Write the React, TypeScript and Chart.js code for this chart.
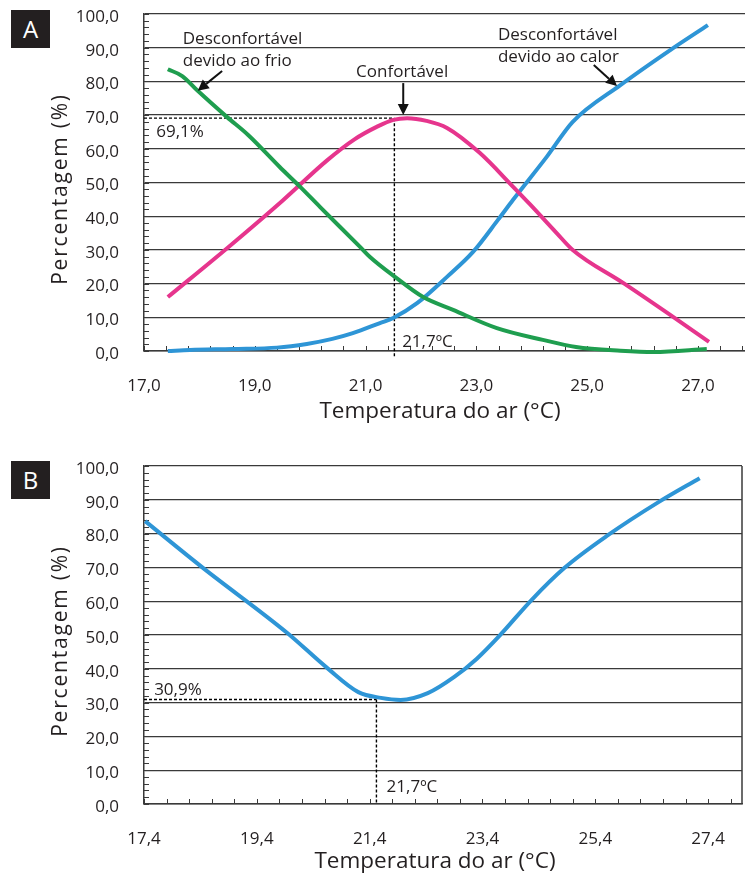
import React, { useEffect, useRef } from "react";
import { Chart, registerables } from "chart.js";

Chart.register(...registerables);

const FONT = '"Open Sans", "Noto Sans", "DejaVu Sans", sans-serif';
const INK = "#231f20";
const GRID = "#3a3a3a";
const GREEN = "#1f9e4f";
const PINK = "#e6358d";
const BLUE = "#2e95d6";

// ---- tick values ----
const yTickValues = [0, 10, 20, 30, 40, 50, 60, 70, 80, 90, 100];
const xTickValuesA = [17.0, 19.0, 21.0, 23.0, 25.0, 27.0];
const xTickValuesB = [17.4, 19.4, 21.4, 23.4, 25.4, 27.4];

// ---- Panel A: discomfort due to cold ----
const coldTempA = [17.43, 17.69, 17.97, 18.5, 18.88, 19.45, 19.82, 20.18, 20.9, 21.08, 21.53, 22.04, 22.58, 23.37, 24.2, 24.8, 25.6, 26.2, 27.16];
const coldPctA = [83.6, 81.6, 77.2, 69.4, 64.1, 54.6, 48.7, 42.7, 30.9, 27.9, 22.0, 16.0, 12.2, 6.8, 3.3, 1.2, 0.1, -0.3, 0.6];

// ---- Panel A: comfortable ----
const comfortTempA = [17.43, 18.5, 19.5, 20.3, 20.8, 21.2, 21.5, 21.75, 22.1, 22.47, 23.06, 23.66, 23.97, 24.45, 24.74, 25.65, 26.5, 27.2];
const comfortPctA = [16.0, 30.5, 44.6, 56.5, 62.8, 66.5, 68.6, 69.1, 68.3, 66.2, 58.8, 48.8, 43.5, 35.0, 30.0, 20.2, 10.7, 2.7];

// ---- Panel A: discomfort due to heat ----
const heatTempA = [17.43, 17.83, 18.6, 19.4, 19.94, 20.4, 20.77, 21.26, 21.5, 21.93, 22.47, 22.94, 23.39, 23.66, 24.27, 24.74, 25.6, 26.5, 27.18];
const heatPctA = [0.0, 0.3, 0.6, 1.0, 2.1, 3.6, 5.3, 8.3, 9.8, 14.2, 22.0, 29.4, 38.9, 44.8, 57.6, 68.0, 78.9, 89.3, 96.7];

// ---- Panel B: total discomfort ----
const overallTempB = [17.42, 18.45, 19.94, 20.65, 21.2, 21.6, 21.95, 22.43, 22.9, 23.3, 23.73, 24.26, 24.85, 25.63, 26.52, 27.25];
const overallPctB = [83.7, 69.8, 50.6, 40.2, 33.1, 31.4, 30.8, 32.8, 37.6, 43.0, 50.3, 60.2, 69.8, 79.6, 89.3, 96.4];

// ---- reference marks ----
const peakComfortA = 69.1;
const minDiscomfortB = 30.9;
const optimumTemp = 21.52;

const toPoints = (xs: number[], ys: number[]) => xs.map((x, i) => ({ x, y: ys[i] }));
const fmt = (v: number) => v.toFixed(1).replace(".", ",");

type P = [number, number];
type Txt = { x: number; y: number; text: string; align: CanvasTextAlign };
type Decor = {
  texts: Txt[];
  arrows: { from: P; to: P }[];
  dashes: { from: P; to: P }[];
  xTitle: { text: string; x: number; y: number };
  yTitle: { text: string; x: number; y: number };
  rightBorder: boolean;
  minorX: number;
  minorY: number;
};

function decorPlugin(d: Decor) {
  return {
    id: "decor",
    beforeDatasetsDraw(chart: any) {
      const { ctx, chartArea: ca, scales } = chart;
      const x = scales.x;
      const y = scales.y;
      ctx.save();
      ctx.strokeStyle = GRID;
      ctx.lineWidth = 1;
      const nx = Math.floor((x.max - x.min) / d.minorX + 1e-6);
      for (let i = 0; i <= nx; i++) {
        const px = Math.round(x.getPixelForValue(x.min + i * d.minorX)) + 0.5;
        ctx.beginPath();
        ctx.moveTo(px, ca.bottom);
        ctx.lineTo(px, ca.bottom - 5);
        ctx.stroke();
      }
      const ny = Math.floor((y.max - y.min) / d.minorY + 1e-6);
      for (let i = 0; i <= ny; i++) {
        const py = Math.round(y.getPixelForValue(y.min + i * d.minorY)) + 0.5;
        ctx.beginPath();
        ctx.moveTo(ca.left, py);
        ctx.lineTo(ca.left + 5, py);
        ctx.stroke();
      }
      if (d.rightBorder) {
        ctx.lineWidth = 1.5;
        ctx.beginPath();
        ctx.moveTo(ca.right, ca.top);
        ctx.lineTo(ca.right, ca.bottom);
        ctx.stroke();
      }
      ctx.strokeStyle = "#000";
      ctx.lineWidth = 1.4;
      ctx.setLineDash([3, 2]);
      for (const ds of d.dashes) {
        ctx.beginPath();
        ctx.moveTo(x.getPixelForValue(ds.from[0]), y.getPixelForValue(ds.from[1]));
        ctx.lineTo(x.getPixelForValue(ds.to[0]), y.getPixelForValue(ds.to[1]));
        ctx.stroke();
      }
      ctx.restore();
    },
    afterDatasetsDraw(chart: any) {
      const { ctx, scales } = chart;
      const x = scales.x;
      const y = scales.y;
      ctx.save();
      // arrows
      ctx.strokeStyle = "#111";
      ctx.fillStyle = "#111";
      ctx.lineWidth = 2;
      for (const a of d.arrows) {
        const x0 = x.getPixelForValue(a.from[0]);
        const y0 = y.getPixelForValue(a.from[1]);
        const x1 = x.getPixelForValue(a.to[0]);
        const y1 = y.getPixelForValue(a.to[1]);
        const ang = Math.atan2(y1 - y0, x1 - x0);
        const hl = 11;
        const hw = 5.5;
        const bx = x1 - hl * Math.cos(ang);
        const by = y1 - hl * Math.sin(ang);
        ctx.beginPath();
        ctx.moveTo(x0, y0);
        ctx.lineTo(bx, by);
        ctx.stroke();
        ctx.beginPath();
        ctx.moveTo(x1, y1);
        ctx.lineTo(bx + hw * Math.sin(ang), by - hw * Math.cos(ang));
        ctx.lineTo(bx - hw * Math.sin(ang), by + hw * Math.cos(ang));
        ctx.closePath();
        ctx.fill();
      }
      // texts
      ctx.fillStyle = INK;
      ctx.font = `17px ${FONT}`;
      ctx.textBaseline = "middle";
      for (const t of d.texts) {
        ctx.textAlign = t.align;
        ctx.fillText(t.text, x.getPixelForValue(t.x), y.getPixelForValue(t.y));
      }
      // axis titles
      ctx.textAlign = "center";
      ctx.font = `22.5px ${FONT}`;
      ctx.fillText(d.xTitle.text, d.xTitle.x, d.xTitle.y);
      ctx.save();
      ctx.translate(d.yTitle.x, d.yTitle.y);
      ctx.rotate(-Math.PI / 2);
      ctx.font = `21px ${FONT}`;
      (ctx as any).letterSpacing = "1.8px";
      ctx.fillText(d.yTitle.text, 0, 0);
      ctx.restore();
      ctx.restore();
    },
  };
}

function lineDs(label: string, xs: number[], ys: number[], color: string) {
  return {
    label,
    data: toPoints(xs, ys),
    borderColor: color,
    backgroundColor: color,
    borderWidth: 4,
    pointRadius: 0,
    fill: false,
    cubicInterpolationMode: "monotone",
    clip: 4,
  };
}

function makeScales(xMin: number, xMax: number, xTicks: number[], xAxisHeight: number) {
  const tickFont = { family: FONT, size: 17 };
  return {
    x: {
      type: "linear",
      min: xMin,
      max: xMax,
      afterBuildTicks: (s: any) => {
        s.ticks = xTicks.map((v) => ({ value: v }));
      },
      afterFit: (s: any) => {
        s.height = xAxisHeight;
        s.paddingLeft = 0;
        s.paddingRight = 0;
      },
      grid: { display: false, drawTicks: false },
      border: { display: true, color: GRID, width: 1.5 },
      ticks: {
        callback: (v: any) => fmt(Number(v)),
        font: tickFont,
        color: INK,
        padding: 25,
        maxRotation: 0,
        autoSkip: false,
      },
    },
    y: {
      type: "linear",
      min: 0,
      max: 100,
      afterBuildTicks: (s: any) => {
        s.ticks = yTickValues.map((v) => ({ value: v }));
      },
      afterFit: (s: any) => {
        s.width = 144;
        s.paddingTop = 0;
        s.paddingBottom = 0;
      },
      grid: { color: GRID, lineWidth: 1.3, drawTicks: false },
      border: { display: true, color: GRID, width: 1.5 },
      ticks: {
        callback: (v: any) => fmt(Number(v)),
        font: tickFont,
        color: INK,
        padding: 25,
        labelOffset: 3,
      },
    },
  };
}

const decorA: Decor = {
  texts: [
    { x: 17.7, y: 92.6, text: "Desconfortável", align: "left" },
    { x: 17.7, y: 86.1, text: "devido ao frio", align: "left" },
    { x: 21.66, y: 82.8, text: "Confortável", align: "center" },
    { x: 23.39, y: 93.8, text: "Desconfortável", align: "left" },
    { x: 23.39, y: 87.2, text: "devido ao calor", align: "left" },
    { x: 17.22, y: 65.0, text: "69,1%", align: "left" },
    { x: 21.66, y: 2.7, text: "21,7ºC", align: "left" },
  ],
  arrows: [
    { from: [18.41, 83.1], to: [17.97, 77.2] },
    { from: [21.68, 79.5], to: [21.68, 70.0] },
    { from: [25.12, 84.9], to: [25.54, 78.6] },
  ],
  dashes: [
    { from: [17.0, peakComfortA], to: [optimumTemp, peakComfortA] },
    { from: [optimumTemp, peakComfortA], to: [optimumTemp, -2.1] },
  ],
  xTitle: { text: "Temperatura do ar (°C)", x: 440, y: 412 },
  yTitle: { text: "Percentagem (%)", x: 61, y: 189 },
  rightBorder: false,
  minorX: 0.4,
  minorY: 2,
};

const decorB: Decor = {
  texts: [
    { x: 17.58, y: 33.7, text: "30,9%", align: "left" },
    { x: 21.7, y: 5.0, text: "21,7ºC", align: "left" },
  ],
  arrows: [],
  dashes: [
    { from: [17.4, minDiscomfortB], to: [optimumTemp, minDiscomfortB] },
    { from: [optimumTemp, minDiscomfortB], to: [optimumTemp, 0] },
  ],
  xTitle: { text: "Temperatura do ar (°C)", x: 435, y: 422 },
  yTitle: { text: "Percentagem (%)", x: 61, y: 201 },
  rightBorder: true,
  minorX: 0.4,
  minorY: 2,
};

const baseOptions = (padding: any, scales: any) => ({
  responsive: false,
  animation: false,
  devicePixelRatio: 1,
  layout: { padding },
  plugins: { legend: { display: false }, tooltip: { enabled: false } },
  scales,
});

const panelLabel = (top: number): React.CSSProperties => ({
  position: "absolute",
  left: 11,
  top,
  width: 39,
  height: 38,
  background: INK,
  color: "#fff",
  fontFamily: FONT,
  fontSize: 24,
  lineHeight: "38px",
  textAlign: "center",
});

export default function App() {
  const refA = useRef<HTMLCanvasElement>(null);
  const refB = useRef<HTMLCanvasElement>(null);

  useEffect(() => {
    const chartA = new Chart(refA.current as HTMLCanvasElement, {
      type: "line",
      data: {
        datasets: [
          lineDs("Desconfortável devido ao frio", coldTempA, coldPctA, GREEN),
          lineDs("Confortável", comfortTempA, comfortPctA, PINK),
          lineDs("Desconfortável devido ao calor", heatTempA, heatPctA, BLUE),
        ] as any,
      },
      options: baseOptions({ top: 14, right: 0, left: 0, bottom: 0 }, makeScales(17.0, 27.85, xTickValuesA, 89)) as any,
      plugins: [decorPlugin(decorA)],
    });
    const chartB = new Chart(refB.current as HTMLCanvasElement, {
      type: "line",
      data: {
        datasets: [lineDs("Desconforto total", overallTempB, overallPctB, BLUE)] as any,
      },
      options: baseOptions({ top: 26, right: 3, left: 0, bottom: 0 }, makeScales(17.4, 28.0, xTickValuesB, 76)) as any,
      plugins: [decorPlugin(decorB)],
    });
    return () => {
      chartA.destroy();
      chartB.destroy();
    };
  }, []);

  return (
    <div style={{ position: "absolute", left: 0, top: 0, width: 745, height: 880, background: "#fff", overflow: "hidden" }}>
      <canvas ref={refA} width={745} height={440} style={{ position: "absolute", left: 0, top: 0, width: 745, height: 440 }} />
      <canvas ref={refB} width={745} height={440} style={{ position: "absolute", left: 0, top: 440, width: 745, height: 440 }} />
      <div style={panelLabel(10)}>A</div>
      <div style={panelLabel(461)}>B</div>
    </div>
  );
}
